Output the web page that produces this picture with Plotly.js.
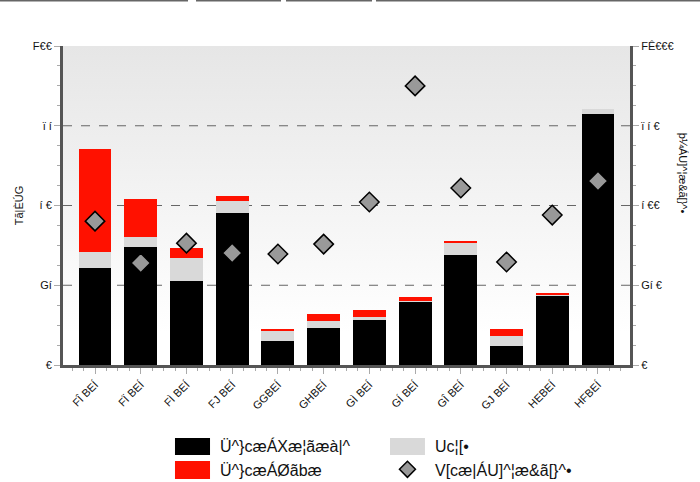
<!DOCTYPE html>
<html>
<head>
<meta charset="utf-8">
<script src="https://cdn.plot.ly/plotly-3.0.1.min.js"></script>
<style>html,body{margin:0;padding:0;background:#fff;}#chart{width:700px;height:482px;}</style>
</head>
<body>
<div id="chart"></div>
<script>
// ---- data ----
var categories = ["FÎ BEÍ","FÏ BEÍ","FÌ BEÍ","FJ BEÍ","GGBEÍ","GHBEÍ","GÌ BEÍ","GÍ BEÍ","GÎ BEÍ","GJ BEÍ","HEBEÍ","HFBEÍ"];
var rentaVariable = [30.4, 37.0, 26.3, 47.6, 7.5, 11.6, 14.1, 19.7, 34.5, 6.0, 21.6, 78.7];
var otros         = [5.0, 3.1, 7.2, 3.8, 3.2, 2.2, 0.9, 0.4, 3.7, 3.1, 0.3, 1.6];
var rentaFija     = [32.3, 11.9, 3.2, 1.6, 0.6, 2.2, 2.2, 1.2, 0.7, 2.2, 0.7, 0.0];
var totalOperaciones = [451, 320, 382, 351, 348, 379, 511, 875, 555, 323, 470, 577];

var leftTickVals = [0, 25, 50, 75, 100];
var leftTickText = ["€", "Gí", "í €", "ï í", "F€€"];
var rightTickVals = [0, 250, 500, 750, 1000];
var rightTickText = ["€", "Gí €", "í €€", "ï í €", "FÊ€€€"];

var seriesNames = ["Ü^}cæÁXæ¦ãæà|^", "Ü^}cæÁØãbæ", "Uc¦[•", "V[cæ|ÁU]^¦æ&ã[}^•"];
var leftTitle = "Tã|ÈÚG";
var rightTitle = "þ¼ÁU]^¦æ&ã[}^•";

var colors = {rv: "#000000", otros: "#d9d9d9", rf: "#ff1100", diamond: "#999999"};

// ---- traces ----
var idx = categories.map(function(_, i){ return i; });
var font = "Liberation Sans, Arial, sans-serif";
var txt = "#111";

var traces = [
  {type: "bar", x: idx, y: rentaVariable, name: seriesNames[0], marker: {color: colors.rv}, width: 0.72, showlegend: false, hoverinfo: "y"},
  {type: "bar", x: idx, y: otros, name: seriesNames[2], marker: {color: colors.otros}, width: 0.72, showlegend: false, hoverinfo: "y"},
  {type: "bar", x: idx, y: rentaFija, name: seriesNames[1], marker: {color: colors.rf}, width: 0.72, showlegend: false, hoverinfo: "y"},
  {type: "scatter", mode: "markers", x: idx, y: totalOperaciones, yaxis: "y2", name: seriesNames[3],
   marker: {symbol: "diamond", size: 15, color: colors.diamond, line: {color: "#000", width: 1.5}}, showlegend: false, cliponaxis: false}
];

// ---- gradient background ----
var svg = '<svg xmlns="http://www.w3.org/2000/svg" width="100" height="100" preserveAspectRatio="none">' +
  '<defs><linearGradient id="g" x1="0" y1="0" x2="0" y2="1">' +
  '<stop offset="0" stop-color="#e6e6e6"/><stop offset="0.9" stop-color="#ffffff"/><stop offset="1" stop-color="#ffffff"/>' +
  '</linearGradient></defs><rect width="100" height="100" fill="url(#g)"/></svg>';
var bgSrc = "data:image/svg+xml;charset=utf-8," + encodeURIComponent(svg);

// ---- shapes: interior gridlines + legend + top line artefact ----
var shapes = [];
leftTickVals.slice(1, -1).forEach(function(v){
  shapes.push({type: "line", xref: "paper", yref: "y", x0: 0, x1: 1, y0: v, y1: v,
    line: {color: "#666", width: 1, dash: "dash"}, layer: "below"});
});
[[-0.1111, 0.2205], [0.2346, 0.3845], [0.3933, 0.545], [0.552, 1.1235]].forEach(function(s){
  shapes.push({type: "line", xref: "paper", yref: "paper", x0: s[0], x1: s[1], y0: 1.1425, y1: 1.1425,
    line: {color: "#666", width: 2}});
});
function rect(x0, x1, y0, y1, c){
  shapes.push({type: "rect", xref: "paper", yref: "paper", x0: x0, x1: x1, y0: y0, y1: y1,
    fillcolor: c, line: {width: 0}});
}
rect(0.1975, 0.2593, -0.2821, -0.2288, colors.rv);
rect(0.1975, 0.2593, -0.357, -0.301, colors.rf);
rect(0.5767, 0.6384, -0.2821, -0.2288, colors.otros);
var dx = 0.0141, dy = 0.0251, cx = 0.6075, cy = -0.327;
shapes.push({type: "path", xref: "paper", yref: "paper",
  path: "M " + (cx - dx) + " " + cy + " L " + cx + " " + (cy + dy) + " L " + (cx + dx) + " " + cy + " L " + cx + " " + (cy - dy) + " Z",
  fillcolor: colors.diamond, line: {color: "#000", width: 1.5}});

var annotations = [
  {xref: "paper", yref: "paper", x: 0.2734, y: -0.255, xanchor: "left", yanchor: "middle", text: seriesNames[0], showarrow: false, font: {family: font, size: 16, color: txt}},
  {xref: "paper", yref: "paper", x: 0.2734, y: -0.329, xanchor: "left", yanchor: "middle", text: seriesNames[1], showarrow: false, font: {family: font, size: 16, color: txt}},
  {xref: "paper", yref: "paper", x: 0.652, y: -0.255, xanchor: "left", yanchor: "middle", text: seriesNames[2], showarrow: false, font: {family: font, size: 16, color: txt}},
  {xref: "paper", yref: "paper", x: 0.652, y: -0.329, xanchor: "left", yanchor: "middle", text: seriesNames[3], showarrow: false, font: {family: font, size: 16, color: txt}},
  {xref: "paper", yref: "paper", x: -0.078, y: 0.5, xanchor: "center", yanchor: "middle", textangle: -90, text: leftTitle, showarrow: false, font: {family: font, size: 11, color: txt}},
  {xref: "paper", yref: "paper", x: 1.095, y: 0.6, xanchor: "center", yanchor: "middle", textangle: 90, text: rightTitle, showarrow: false, font: {family: font, size: 11, color: txt}}
];

var layout = {
  width: 700, height: 482,
  margin: {l: 63, r: 70, t: 46, b: 117, pad: 0},
  paper_bgcolor: "#ffffff",
  plot_bgcolor: "rgba(0,0,0,0)",
  barmode: "stack",
  showlegend: false,
  font: {family: font, size: 11, color: txt},
  images: [{source: bgSrc, xref: "paper", yref: "paper", x: 0, y: 1, sizex: 1, sizey: 1,
    xanchor: "left", yanchor: "top", sizing: "stretch", layer: "below"}],
  xaxis: {
    range: [-0.7, 11.7], tickmode: "array", tickvals: idx, ticktext: categories,
    tickangle: -45, ticks: "outside", ticklen: 6, tickcolor: "#aaa", tickwidth: 1,
    minor: {dtick: 0.25, tick0: 0, ticks: "outside", ticklen: 3, tickcolor: "#aaa", showgrid: false},
    showline: true, linecolor: "#555", linewidth: 3, showgrid: false, zeroline: false,
    tickfont: {family: font, size: 11, color: txt}, fixedrange: true
  },
  yaxis: {
    range: [0, 100], tickmode: "array", tickvals: leftTickVals, ticktext: leftTickText,
    ticks: "outside", ticklen: 6, tickcolor: "#aaa", tickwidth: 1,
    minor: {dtick: 6.25, tick0: 0, ticks: "outside", ticklen: 3, tickcolor: "#aaa", showgrid: false},
    showline: true, linecolor: "#555", linewidth: 3, showgrid: false, zeroline: false,
    tickfont: {family: font, size: 11, color: txt}
  },
  yaxis2: {
    overlaying: "y", side: "right", range: [0, 1000], tickmode: "array", tickvals: rightTickVals, ticktext: rightTickText,
    ticks: "outside", ticklen: 6, tickcolor: "#aaa", tickwidth: 1,
    minor: {dtick: 62.5, tick0: 0, ticks: "outside", ticklen: 3, tickcolor: "#aaa", showgrid: false},
    showline: true, linecolor: "#555", linewidth: 3, showgrid: false, zeroline: false,
    tickfont: {family: font, size: 11, color: txt}
  },
  shapes: shapes,
  annotations: annotations
};

Plotly.newPlot("chart", traces, layout, {displayModeBar: false, staticPlot: true});
</script>
</body>
</html>
